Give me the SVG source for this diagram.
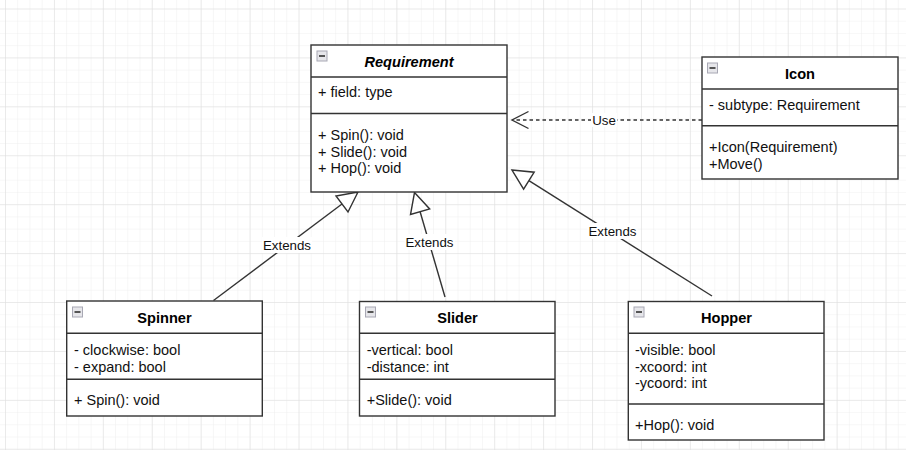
<svg xmlns="http://www.w3.org/2000/svg" xmlns:xlink="http://www.w3.org/1999/xlink" width="906" height="450" viewBox="0 0 906 450">
<style>
  .box { fill: #ffffff; stroke: #333333; stroke-width: 1.4; }
  .sep { stroke: #333333; stroke-width: 1.4; fill: none; }
  .title { font-family: "Liberation Sans", Arial, sans-serif; font-size: 14.6px; font-weight: bold; fill: #000; text-anchor: middle; }
  .txt { font-family: "Liberation Sans", Arial, sans-serif; font-size: 14.5px; fill: #111; }
  .lbl { font-family: "Liberation Sans", Arial, sans-serif; font-size: 13.3px; fill: #111; text-anchor: middle; }
  .edge { stroke: #333333; stroke-width: 1.4; fill: none; }
  .dash { stroke-dasharray: 3.5 3; }
  .head { stroke: #333333; stroke-width: 1.4; fill: #ffffff; }
  .lblbg { fill: #ffffff; }
</style>
<defs>
  <pattern id="minor" x="5" y="8.5" width="12.23" height="12.23" patternUnits="userSpaceOnUse">
    <path d="M0 0 H12.23 M0 0 V12.23" stroke="#efefef" stroke-width="1" fill="none"/>
  </pattern>
  <pattern id="major" x="5" y="8.5" width="48.92" height="48.92" patternUnits="userSpaceOnUse">
    <path d="M0 0 H48.92 M0 0 V48.92" stroke="#dedede" stroke-width="1" fill="none"/>
  </pattern>
  <g id="collapse">
    <rect x="0.5" y="0.5" width="10" height="10" fill="#e6e6ea" stroke="#a8a8b4" stroke-width="1"/>
    <rect x="2.5" y="4.5" width="6" height="2" fill="#555"/>
  </g>
</defs>
<rect x="0" y="0" width="906" height="450" fill="#ffffff"/>
<rect x="0" y="0" width="906" height="450" fill="url(#minor)"/>
<rect x="0" y="0" width="906" height="450" fill="url(#major)"/>

<g id="connectors">
  <!-- Spinner extends -->
  <line class="edge" x1="213.5" y1="300.5" x2="342" y2="204"/>
  <polygon class="head" points="358,192 348,212 336,196"/>
  <!-- Slider extends -->
  <line class="edge" x1="445" y1="297" x2="420.1" y2="211.7"/>
  <polygon class="head" points="414.5,192.5 429.7,208.9 410.5,214.5"/>
  <!-- Hopper extends -->
  <line class="edge" x1="712" y1="296" x2="528.9" y2="180.7"/>
  <polygon class="head" points="512,170 534.2,172.2 523.6,189.2"/>
  <!-- Use dependency -->
  <line class="edge dash" x1="702" y1="120" x2="513" y2="120"/>
  <polyline class="edge" points="528.5,111.5 512,120 528.5,128.5"/>
  <!-- labels -->
  <rect class="lblbg" x="262" y="237" width="50" height="16"/>
  <text class="lbl" x="287" y="250">Extends</text>
  <rect class="lblbg" x="404.5" y="234" width="50" height="16"/>
  <text class="lbl" x="429.5" y="247">Extends</text>
  <rect class="lblbg" x="587.5" y="223" width="50" height="16"/>
  <text class="lbl" x="612.5" y="236">Extends</text>
  <rect class="lblbg" x="591" y="113" width="26" height="14"/>
  <text class="lbl" x="604" y="124.5">Use</text>
</g>

<g id="requirement">
  <rect class="box" x="311" y="45" width="196" height="147"/>
  <line class="sep" x1="311" y1="77" x2="507" y2="77"/>
  <line class="sep" x1="311" y1="113.5" x2="507" y2="113.5"/>
  <use xlink:href="#collapse" href="#collapse" x="316.5" y="50.5"/>
  <text class="title" x="409" y="67" font-style="italic">Requirement</text>
  <text class="txt" x="318" y="97.3">+ field: type</text>
  <text class="txt" x="318" y="140">+ Spin(): void</text>
  <text class="txt" x="318" y="156.7">+ Slide(): void</text>
  <text class="txt" x="318" y="173.3">+ Hop(): void</text>
</g>

<g id="icon">
  <rect class="box" x="702" y="57" width="196" height="122"/>
  <line class="sep" x1="702" y1="89" x2="898" y2="89"/>
  <line class="sep" x1="702" y1="125.7" x2="898" y2="125.7"/>
  <use xlink:href="#collapse" href="#collapse" x="707" y="62.5"/>
  <text class="title" x="800" y="78.5">Icon</text>
  <text class="txt" x="709" y="110">- subtype: Requirement</text>
  <text class="txt" x="709" y="151.7">+Icon(Requirement)</text>
  <text class="txt" x="709" y="169">+Move()</text>
</g>

<g id="spinner">
  <rect class="box" x="66.7" y="301" width="195.6" height="115"/>
  <line class="sep" x1="66.7" y1="333.3" x2="262.3" y2="333.3"/>
  <line class="sep" x1="66.7" y1="379.3" x2="262.3" y2="379.3"/>
  <use xlink:href="#collapse" href="#collapse" x="72" y="306.5"/>
  <text class="title" x="164.5" y="323">Spinner</text>
  <text class="txt" x="74" y="355">- clockwise: bool</text>
  <text class="txt" x="74" y="371.7">- expand: bool</text>
  <text class="txt" x="74" y="405">+ Spin(): void</text>
</g>

<g id="slider">
  <rect class="box" x="359.5" y="301.5" width="195.5" height="114.5"/>
  <line class="sep" x1="359.5" y1="333.3" x2="555" y2="333.3"/>
  <line class="sep" x1="359.5" y1="379.3" x2="555" y2="379.3"/>
  <use xlink:href="#collapse" href="#collapse" x="365" y="306.5"/>
  <text class="title" x="457.5" y="323">Slider</text>
  <text class="txt" x="366.7" y="355">-vertical: bool</text>
  <text class="txt" x="366.7" y="371.7">-distance: int</text>
  <text class="txt" x="366.7" y="405">+Slide(): void</text>
</g>

<g id="hopper">
  <rect class="box" x="628.3" y="301.5" width="195.7" height="138.5"/>
  <line class="sep" x1="628.3" y1="333.3" x2="824" y2="333.3"/>
  <line class="sep" x1="628.3" y1="404" x2="824" y2="404"/>
  <use xlink:href="#collapse" href="#collapse" x="633.5" y="306.5"/>
  <text class="title" x="726.5" y="323">Hopper</text>
  <text class="txt" x="635" y="355">-visible: bool</text>
  <text class="txt" x="635" y="371.7">-xcoord: int</text>
  <text class="txt" x="635" y="388.3">-ycoord: int</text>
  <text class="txt" x="635" y="429.5">+Hop(): void</text>
</g>
</svg>
